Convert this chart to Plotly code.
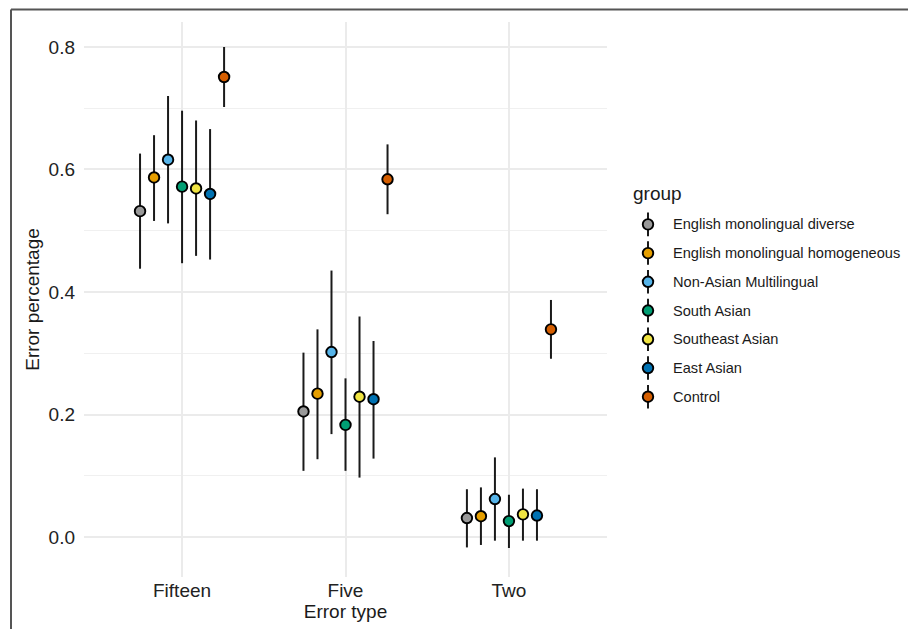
import plotly.graph_objects as go

# ---- data -------------------------------------------------------------
categories = ["Fifteen", "Five", "Two"]

groups = [
    "English monolingual diverse",
    "English monolingual homogeneous",
    "Non-Asian Multilingual",
    "South Asian",
    "Southeast Asian",
    "East Asian",
    "Control",
]

colors = ["#999999", "#E69F00", "#56B4E9", "#009E73", "#F0E442", "#0072B2", "#D55E00"]

# mean error percentage per group, in category order
mean_emd = [0.532, 0.205, 0.031]
mean_emh = [0.587, 0.234, 0.034]
mean_nam = [0.616, 0.302, 0.062]
mean_sa = [0.572, 0.183, 0.026]
mean_sea = [0.569, 0.229, 0.037]
mean_ea = [0.560, 0.225, 0.035]
mean_ctl = [0.751, 0.584, 0.339]

# upper / lower interval limits
upper_emd = [0.626, 0.301, 0.078]
upper_emh = [0.656, 0.339, 0.081]
upper_nam = [0.720, 0.435, 0.130]
upper_sa = [0.696, 0.259, 0.069]
upper_sea = [0.680, 0.360, 0.079]
upper_ea = [0.666, 0.320, 0.078]
upper_ctl = [0.800, 0.641, 0.387]

lower_emd = [0.438, 0.108, -0.017]
lower_emh = [0.516, 0.127, -0.013]
lower_nam = [0.512, 0.168, -0.006]
lower_sa = [0.447, 0.108, -0.018]
lower_sea = [0.459, 0.097, -0.006]
lower_ea = [0.453, 0.128, -0.006]
lower_ctl = [0.702, 0.527, 0.291]

y_ticks = [0.0, 0.2, 0.4, 0.6, 0.8]

means = [mean_emd, mean_emh, mean_nam, mean_sa, mean_sea, mean_ea, mean_ctl]
uppers = [upper_emd, upper_emh, upper_nam, upper_sa, upper_sea, upper_ea, upper_ctl]
lowers = [lower_emd, lower_emh, lower_nam, lower_sa, lower_sea, lower_ea, lower_ctl]

# ---- geometry ---------------------------------------------------------
W, H = 908, 629
FONT = "Liberation Sans, Arial, sans-serif"
DODGE = 0.6
n = len(groups)
step = DODGE / n

def px_x(p):
    return p / W

def px_y(p):
    return 1 - p / H

fig = go.Figure()

for i, name in enumerate(groups):
    off = -DODGE / 2 + step / 2 + i * step
    xs = [k + 1 + off for k in range(len(categories))]
    m = means[i]
    up = [u - v for u, v in zip(uppers[i], m)]
    dn = [v - l for v, l in zip(m, lowers[i])]
    fig.add_trace(go.Scatter(
        x=xs, y=m, mode="markers", name=name, showlegend=False,
        marker=dict(size=10.5, color=colors[i], line=dict(color="#000000", width=1.9)),
        error_y=dict(type="data", symmetric=False, array=up, arrayminus=dn,
                     width=0, thickness=2, color="#1a1a1a"),
        xaxis="x", yaxis="y",
    ))

# legend keys: a point with a vertical bar, drawn on a small helper axis
for i, name in enumerate(groups):
    fig.add_trace(go.Scatter(
        x=[0], y=[i], mode="markers", showlegend=False, hoverinfo="skip",
        marker=dict(size=10.5, color=colors[i], line=dict(color="#000000", width=1.9)),
        error_y=dict(type="constant", value=0.41, width=0, thickness=2, color="#1a1a1a"),
        xaxis="x2", yaxis="y2",
    ))

annotations = []
for i, name in enumerate(groups):
    annotations.append(dict(
        text=name, x=px_x(671), y=i, xref="paper", yref="y2",
        xanchor="left", yanchor="middle", showarrow=False,
        font=dict(family=FONT, size=14.6, color="#1a1a1a"),
    ))
annotations.append(dict(
    text="group", x=px_x(631), y=px_y(193), xref="paper", yref="paper",
    xanchor="left", yanchor="middle", showarrow=False,
    font=dict(family=FONT, size=19, color="#1a1a1a"),
))

# outer frame (left and top edges)
frame = dict(color="#555555", width=2)
shapes = [
    dict(type="line", xref="paper", yref="paper", x0=px_x(11), x1=px_x(11),
         y0=px_y(9.5), y1=-0.05, line=frame),
    dict(type="line", xref="paper", yref="paper", x0=px_x(11), x1=1.05,
         y0=px_y(9.5), y1=px_y(9.5), line=frame),
]

fig.update_layout(
    width=W, height=H,
    margin=dict(l=0, r=0, t=0, b=0),
    paper_bgcolor="white", plot_bgcolor="white",
    font=dict(family=FONT, size=19, color="#1a1a1a"),
    showlegend=False,
    xaxis=dict(
        domain=[px_x(84), px_x(607)], range=[0.4, 3.6],
        tickvals=[1, 2, 3], ticktext=categories,
        showgrid=True, gridcolor="#ebebeb", gridwidth=1.8,
        zeroline=False, showline=False, ticks="", automargin=False,
        tickfont=dict(size=19, color="#222222"), ticklabelstandoff=0,
        title=dict(text="Error type", font=dict(size=19, color="#1a1a1a"), standoff=0),
        fixedrange=True,
    ),
    yaxis=dict(
        domain=[px_y(577), px_y(22)], range=[-0.0653, 0.8408],
        tickvals=y_ticks, ticktext=[f"{v:.1f}" for v in y_ticks],
        showgrid=True, gridcolor="#ebebeb", gridwidth=1.8,
        minor=dict(dtick=0.1, tick0=0.1, showgrid=True, gridcolor="#f0f0f0", gridwidth=1),
        zeroline=False, showline=False, ticks="", automargin=False,
        tickfont=dict(size=19, color="#222222"), ticklabelstandoff=8,
        title=dict(text="Error percentage", font=dict(size=19, color="#1a1a1a"), standoff=3),
        fixedrange=True,
    ),
    xaxis2=dict(domain=[px_x(640), px_x(656)], range=[-1, 1], visible=False,
                anchor="y2", fixedrange=True),
    yaxis2=dict(domain=[px_y(411.1), px_y(210)], range=[6.5, -0.5], visible=False,
                anchor="x2", fixedrange=True),
    annotations=annotations,
    shapes=shapes,
)

fig.write_html("out.html")
